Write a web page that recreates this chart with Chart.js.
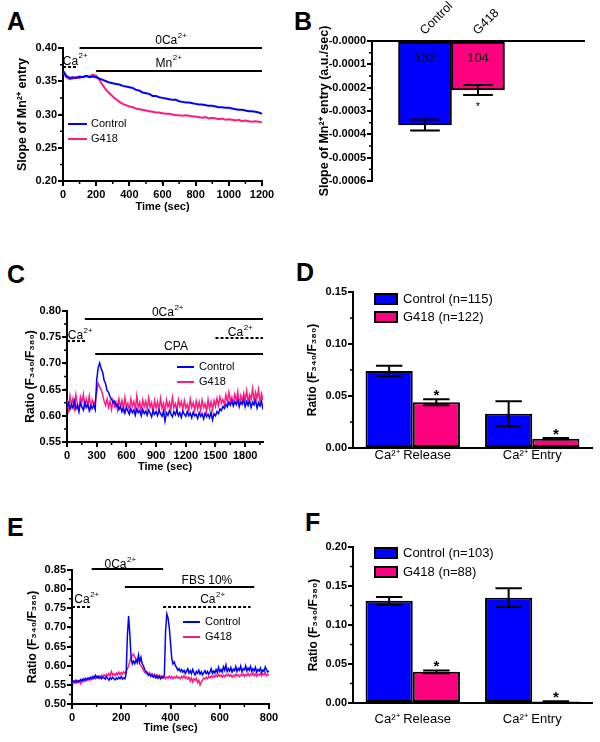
<!DOCTYPE html>
<html>
<head>
<meta charset="utf-8">
<title>Mn2+ entry and Ca2+ signals: Control vs G418</title>
<script src="https://cdn.jsdelivr.net/npm/chart.js@4.4.1/dist/chart.umd.min.js"></script>
<style>
  body { margin: 0; background: #fff; }
  #fig { position: relative; width: 600px; height: 742px; overflow: hidden; }
  #fig canvas { position: absolute; }
  .tag { position: absolute; font: bold 25px "Liberation Sans", Arial, sans-serif; line-height: 1; }
</style>
</head>
<body>
<div id="fig">
  <div class="tag" style="left:7px;top:9px">A</div>
  <div class="tag" style="left:294px;top:9px">B</div>
  <div class="tag" style="left:7px;top:262px">C</div>
  <div class="tag" style="left:296px;top:260px">D</div>
  <div class="tag" style="left:7px;top:515px">E</div>
  <div class="tag" style="left:305px;top:510px">F</div>
  <canvas id="chartA" width="300" height="215" style="left:0;top:0"></canvas>
  <canvas id="chartB" width="300" height="215" style="left:300px;top:0"></canvas>
  <canvas id="chartC" width="300" height="235" style="left:0;top:240px"></canvas>
  <canvas id="chartD" width="300" height="235" style="left:300px;top:240px"></canvas>
  <canvas id="chartE" width="300" height="242" style="left:0;top:500px"></canvas>
  <canvas id="chartF" width="300" height="242" style="left:300px;top:500px"></canvas>
</div>
<script>
// --- DATA ---
// A: slope of Mn2+ quench, one sample every 20 s (0..1200 s)
const stepA = 20;
const slopeControlA = [
  0.366, 0.358, 0.355, 0.356, 0.355, 0.357, 0.356, 0.358, 0.356, 0.357,
  0.356, 0.354, 0.352, 0.350, 0.348, 0.347, 0.346, 0.345, 0.343, 0.342,
  0.341, 0.340, 0.337, 0.336, 0.333, 0.332, 0.331, 0.328, 0.328, 0.326,
  0.325, 0.324, 0.323, 0.322, 0.322, 0.320, 0.319, 0.318, 0.318, 0.317,
  0.316, 0.315, 0.315, 0.314, 0.313, 0.313, 0.312, 0.311, 0.311, 0.310,
  0.310, 0.309, 0.308, 0.307, 0.307, 0.306, 0.305, 0.305, 0.304, 0.303,
  0.301
];
const slopeG418A = [
  0.364, 0.356, 0.353, 0.354, 0.356, 0.355, 0.357, 0.358, 0.357, 0.360,
  0.358, 0.352, 0.344, 0.337, 0.332, 0.327, 0.323, 0.319, 0.316, 0.314,
  0.312, 0.311, 0.309, 0.308, 0.307, 0.306, 0.305, 0.304, 0.303, 0.303,
  0.302, 0.301, 0.301, 0.300, 0.299, 0.299, 0.298, 0.299, 0.298, 0.297,
  0.297, 0.296, 0.295, 0.296, 0.294, 0.295, 0.294, 0.293, 0.294, 0.292,
  0.293, 0.292, 0.291, 0.292, 0.290, 0.291, 0.290, 0.289, 0.290, 0.289,
  0.288
];

// B: mean slope of Mn2+ entry (a.u./sec) with SEM, cell counts
const groupsB = ['Control', 'G418'];
const slopeMeanB = [-0.00036, -0.00021];
const slopeSemB = [0.000024, 0.000021];
const cellsB = ['132', '104'];

// C: F340/F380 ratio, CPA protocol, one sample every 15 s (0..1980 s)
const stepC = 15;
const ratioControlC = [
  0.618, 0.625, 0.612, 0.622, 0.615, 0.628, 0.613, 0.620, 0.608, 0.624,
  0.617, 0.611, 0.626, 0.616, 0.622, 0.610, 0.619, 0.614, 0.621, 0.612,
  0.668, 0.692, 0.701, 0.690, 0.683, 0.668, 0.661, 0.648, 0.645, 0.636,
  0.632, 0.625, 0.628, 0.618, 0.622, 0.612, 0.618, 0.608, 0.615, 0.605,
  0.616, 0.609, 0.603, 0.614, 0.606, 0.611, 0.601, 0.613, 0.606, 0.610,
  0.600, 0.612, 0.604, 0.609, 0.601, 0.611, 0.605, 0.598, 0.610, 0.603,
  0.608, 0.600, 0.611, 0.604, 0.599, 0.609, 0.590, 0.606, 0.601, 0.610,
  0.603, 0.598, 0.608, 0.602, 0.611, 0.600, 0.606, 0.597, 0.609, 0.603,
  0.599, 0.608, 0.600, 0.605, 0.596, 0.607, 0.600, 0.603, 0.595, 0.606,
  0.599, 0.604, 0.594, 0.605, 0.598, 0.603, 0.596, 0.607, 0.592, 0.604,
  0.600, 0.608, 0.604, 0.613, 0.610, 0.618, 0.614, 0.622, 0.617, 0.626,
  0.620, 0.628, 0.619, 0.627, 0.621, 0.630, 0.618, 0.626, 0.622, 0.631,
  0.617, 0.627, 0.620, 0.629, 0.616, 0.626, 0.621, 0.630, 0.615, 0.625,
  0.619, 0.628, 0.612
];
const ratioG418C = [
  0.630, 0.612, 0.638, 0.620, 0.633, 0.615, 0.640, 0.622, 0.610, 0.636,
  0.625, 0.641, 0.618, 0.632, 0.620, 0.638, 0.615, 0.630, 0.622, 0.628,
  0.645, 0.662, 0.655, 0.650, 0.640, 0.628, 0.620, 0.632, 0.616, 0.628,
  0.612, 0.630, 0.618, 0.626, 0.611, 0.632, 0.617, 0.629, 0.612, 0.635,
  0.616, 0.624, 0.610, 0.632, 0.618, 0.627, 0.612, 0.638, 0.615, 0.626,
  0.609, 0.630, 0.617, 0.628, 0.613, 0.634, 0.616, 0.625, 0.608, 0.629,
  0.615, 0.627, 0.611, 0.633, 0.614, 0.624, 0.609, 0.630, 0.617, 0.626,
  0.612, 0.635, 0.615, 0.623, 0.610, 0.631, 0.618, 0.627, 0.612, 0.629,
  0.615, 0.622, 0.609, 0.632, 0.616, 0.625, 0.611, 0.628, 0.613, 0.626,
  0.610, 0.630, 0.616, 0.623, 0.608, 0.631, 0.614, 0.627, 0.612, 0.629,
  0.618, 0.633, 0.620, 0.636, 0.624, 0.631, 0.622, 0.640, 0.626, 0.645,
  0.628, 0.636, 0.622, 0.641, 0.629, 0.646, 0.620, 0.638, 0.627, 0.643,
  0.630, 0.648, 0.625, 0.640, 0.632, 0.652, 0.628, 0.645, 0.633, 0.650,
  0.626, 0.642, 0.630
];

// D: CPA release / entry amplitudes (mean, SEM)
const phaseLabels = ['Ca\u00B2\u207A Release', 'Ca\u00B2\u207A Entry'];
const ampControlD = [0.074, 0.033];
const semControlD = [0.005, 0.012];
const ampG418D = [0.044, 0.009];
const semG418D = [0.0028, 0.0006];
const legendD = ['Control (n=115)', 'G418 (n=122)'];

// E: F340/F380 ratio, FBS protocol, one sample every 5 s (0..800 s)
const stepE = 5;
const ratioControlE = [
  0.555, 0.560, 0.558, 0.562, 0.556, 0.561, 0.559, 0.564, 0.560, 0.566,
  0.562, 0.567, 0.563, 0.568, 0.565, 0.570, 0.566, 0.572, 0.568, 0.575,
  0.569, 0.573, 0.567, 0.571, 0.566, 0.570, 0.568, 0.565, 0.571, 0.567,
  0.562, 0.569, 0.565, 0.570, 0.566, 0.563, 0.568, 0.565, 0.570, 0.566,
  0.572, 0.565, 0.568, 0.566, 0.580, 0.680, 0.730, 0.680, 0.620, 0.605,
  0.612, 0.605, 0.615, 0.608, 0.628, 0.610, 0.622, 0.605, 0.600, 0.590,
  0.585, 0.580, 0.575, 0.578, 0.572, 0.576, 0.570, 0.574, 0.568, 0.573,
  0.567, 0.572, 0.566, 0.571, 0.568, 0.575, 0.690, 0.735, 0.725, 0.700,
  0.660, 0.620, 0.605, 0.610, 0.600, 0.595, 0.588, 0.592, 0.585, 0.590,
  0.583, 0.588, 0.580, 0.586, 0.592, 0.581, 0.587, 0.579, 0.590, 0.582,
  0.576, 0.585, 0.580, 0.588, 0.578, 0.584, 0.576, 0.582, 0.587, 0.579,
  0.585, 0.578, 0.583, 0.592, 0.580, 0.586, 0.581, 0.590, 0.582, 0.596,
  0.584, 0.590, 0.583, 0.597, 0.588, 0.602, 0.585, 0.592, 0.586, 0.595,
  0.583, 0.591, 0.587, 0.598, 0.585, 0.593, 0.588, 0.599, 0.584, 0.592,
  0.589, 0.600, 0.586, 0.594, 0.588, 0.598, 0.585, 0.592, 0.587, 0.596,
  0.583, 0.590, 0.586, 0.594, 0.582, 0.589, 0.585, 0.597, 0.590, 0.584,
  0.586
];
const ratioG418E = [
  0.557, 0.553, 0.559, 0.555, 0.561, 0.556, 0.560, 0.553, 0.562, 0.558,
  0.564, 0.560, 0.566, 0.562, 0.567, 0.563, 0.568, 0.565, 0.570, 0.566,
  0.571, 0.568, 0.573, 0.569, 0.575, 0.570, 0.576, 0.572, 0.578, 0.573,
  0.580, 0.574, 0.585, 0.576, 0.579, 0.574, 0.581, 0.576, 0.583, 0.577,
  0.582, 0.578, 0.584, 0.580, 0.585, 0.592, 0.600, 0.612, 0.620, 0.628,
  0.630, 0.622, 0.618, 0.612, 0.615, 0.605, 0.600, 0.595, 0.588, 0.583,
  0.580, 0.584, 0.578, 0.582, 0.575, 0.579, 0.573, 0.578, 0.572, 0.576,
  0.571, 0.575, 0.570, 0.574, 0.568, 0.572, 0.566, 0.571, 0.567, 0.573,
  0.568, 0.572, 0.566, 0.571, 0.568, 0.573, 0.567, 0.570, 0.566, 0.572,
  0.568, 0.574, 0.567, 0.571, 0.565, 0.570, 0.560, 0.568, 0.558, 0.566,
  0.562, 0.567, 0.556, 0.562, 0.550, 0.558, 0.563, 0.568, 0.565, 0.570,
  0.566, 0.572, 0.568, 0.573, 0.569, 0.574, 0.570, 0.576, 0.571, 0.577,
  0.572, 0.576, 0.570, 0.575, 0.571, 0.577, 0.573, 0.578, 0.572, 0.576,
  0.570, 0.575, 0.572, 0.578, 0.573, 0.577, 0.571, 0.576, 0.574, 0.579,
  0.572, 0.577, 0.574, 0.580, 0.573, 0.578, 0.575, 0.581, 0.574, 0.579,
  0.572, 0.578, 0.575, 0.580, 0.573, 0.579, 0.576, 0.582, 0.574, 0.578,
  0.576
];

// F: FBS release / entry amplitudes (mean, SEM)
const ampControlF = [0.131, 0.135];
const semControlF = [0.005, 0.012];
const ampG418F = [0.040, 0.002];
const semG418F = [0.0018, 0.0003];
const legendF = ['Control (n=103)', 'G418 (n=88)'];

// --- STYLE ---
const FONT = '"Liberation Sans", Arial, Helvetica, sans-serif';
const BLUE = '#0000FF';
const PINK_LINE = '#FF1A80';
const PINK_BAR = '#FF0080';
Chart.defaults.font.family = FONT;
Chart.defaults.color = '#000';

// text with a small raised part, e.g. Ca + 2+
function richText(ctx, base, sup, cx, cy, size) {
  ctx.font = size + 'px ' + FONT;
  const w1 = ctx.measureText(base).width;
  const supSize = Math.round(size * 0.68);
  ctx.font = supSize + 'px ' + FONT;
  const w2 = sup ? ctx.measureText(sup).width : 0;
  const x0 = cx - (w1 + w2) / 2;
  ctx.textAlign = 'left';
  ctx.textBaseline = 'middle';
  ctx.font = size + 'px ' + FONT;
  ctx.fillText(base, x0, cy);
  if (sup) {
    ctx.font = supSize + 'px ' + FONT;
    ctx.fillText(sup, x0 + w1 + 0.5, cy - size * 0.42);
  }
}

// minor ticks, protocol bars, legends, error bars, stars
function decor(cfg) {
  return {
    id: 'decor',
    afterDatasetsDraw(chart) {
      if (!cfg.errors) return;
      const ctx = chart.ctx, ys = chart.scales.y;
      ctx.save();
      ctx.strokeStyle = '#000';
      ctx.fillStyle = '#000';
      ctx.lineWidth = 2;
      chart.data.datasets.forEach((ds, d) => {
        chart.getDatasetMeta(d).data.forEach((bar, i) => {
          const m = ds.data[i], e = cfg.errors[d][i];
          if (m == null || e == null) return;
          const x = bar.x, half = bar.width * 0.28;
          const yHi = ys.getPixelForValue(m + e), yLo = ys.getPixelForValue(m - e);
          ctx.beginPath();
          ctx.moveTo(x, yHi); ctx.lineTo(x, yLo);
          ctx.moveTo(x - half, yHi); ctx.lineTo(x + half, yHi);
          ctx.moveTo(x - half, yLo); ctx.lineTo(x + half, yLo);
          ctx.stroke();
          if (cfg.stars && cfg.stars[d][i]) {
            ctx.textAlign = 'center';
            ctx.textBaseline = 'alphabetic';
            ctx.font = cfg.starFont;
            if (m < 0) ctx.fillText('*', x, Math.max(yHi, yLo) + 15);
            else ctx.fillText('*', x, Math.min(yHi, yLo) + 1);
          }
          if (cfg.inner && cfg.inner[d][i]) {
            ctx.textAlign = 'center';
            ctx.textBaseline = 'middle';
            ctx.font = '13px ' + FONT;
            ctx.fillText(cfg.inner[d][i], x, ys.getPixelForValue(0) + 17);
          }
        });
      });
      ctx.restore();
    },
    afterDraw(chart) {
      const ctx = chart.ctx;
      ctx.save();
      ctx.strokeStyle = '#000';
      ctx.fillStyle = '#000';
      ctx.lineWidth = 1.5;
      // minor ticks
      Object.keys(cfg.minor || {}).forEach(id => {
        const s = chart.scales[id], step = cfg.minor[id];
        const n = Math.round((s.max - s.min) / step);
        ctx.beginPath();
        for (let k = 0; k <= n; k++) {
          const p = s.getPixelForValue(s.min + k * step);
          if (s.isHorizontal()) { ctx.moveTo(p, s.top); ctx.lineTo(p, s.top + 3); }
          else { ctx.moveTo(s.right - 3, p); ctx.lineTo(s.right, p); }
        }
        ctx.stroke();
      });
      // protocol bars
      (cfg.marks || []).forEach(mk => {
        const xs = chart.scales.x, ys = chart.scales.y;
        const y = Math.round(ys.getPixelForValue(mk.at));
        ctx.lineWidth = 2;
        ctx.setLineDash(mk.dashed ? [3, 2] : []);
        ctx.beginPath();
        ctx.moveTo(xs.getPixelForValue(mk.from), y);
        ctx.lineTo(xs.getPixelForValue(mk.to), y);
        ctx.stroke();
        ctx.setLineDash([]);
        richText(ctx, mk.text, mk.sup, xs.getPixelForValue(mk.tx), ys.getPixelForValue(mk.ty), 12);
      });
      // legend
      if (cfg.legend) {
        const L = cfg.legend;
        chart.data.datasets.forEach((ds, i) => {
          const y = L.y + i * L.gap;
          if (L.kind === 'line') {
            ctx.strokeStyle = ds.borderColor;
            ctx.lineWidth = 2;
            ctx.beginPath();
            ctx.moveTo(L.x, y); ctx.lineTo(L.x + L.len, y);
            ctx.stroke();
          } else {
            ctx.fillStyle = ds.backgroundColor;
            ctx.fillRect(L.x, y - 5, L.len, 10);
            ctx.strokeStyle = '#000';
            ctx.lineWidth = 2;
            ctx.strokeRect(L.x, y - 5, L.len, 10);
          }
          ctx.fillStyle = '#000';
          ctx.font = L.font + 'px ' + FONT;
          ctx.textAlign = 'left';
          ctx.textBaseline = 'middle';
          ctx.fillText(ds.label, L.x + L.len + L.pad, y);
        });
      }
      ctx.restore();
    }
  };
}

function valueAxis(o) {
  return {
    type: 'linear',
    min: o.min, max: o.max,
    afterFit: s => { s.width = o.width; s.paddingTop = 0; s.paddingBottom = 0; },
    border: { color: '#000', width: 2 },
    grid: { drawOnChartArea: false, color: '#000', lineWidth: 2, tickLength: 5 },
    ticks: { stepSize: o.step, includeBounds: false, padding: 1, color: '#000',
             font: { size: 11, weight: 'bold' }, callback: o.fmt },
    title: { display: true, text: o.title, color: '#000', font: { size: o.tsize || 12, weight: 'bold' },
             padding: { top: o.tpad, bottom: 0 } }
  };
}

function timeAxis(o) {
  return {
    type: 'linear',
    min: 0, max: o.max,
    afterFit: s => { s.height = o.height; s.paddingLeft = 0; s.paddingRight = 0; },
    border: { color: '#000', width: 2 },
    grid: { drawOnChartArea: false, color: '#000', lineWidth: 2, tickLength: 5 },
    ticks: { stepSize: o.step, includeBounds: false, padding: 2, maxRotation: 0, autoSkip: false,
             color: '#000', font: { size: 11, weight: 'bold' }, callback: v => String(v) },
    title: { display: true, text: 'Time (sec)', color: '#000', font: { size: 11, weight: 'bold' },
             padding: { top: 0, bottom: o.tpad } }
  };
}

function traceChart(id, p) {
  const pts = (arr, dt) => arr.map((v, i) => ({ x: i * dt, y: v }));
  const line = { pointRadius: 0, borderWidth: p.lw, tension: 0, fill: false };
  return new Chart(document.getElementById(id), {
    type: 'line',
    data: {
      datasets: [
        Object.assign({ label: 'Control', data: pts(p.control, p.dt), borderColor: BLUE }, line),
        Object.assign({ label: 'G418', data: pts(p.g418, p.dt), borderColor: PINK_LINE }, line)
      ]
    },
    options: {
      responsive: false,
      animation: false,
      layout: { padding: p.pad },
      plugins: { legend: { display: false }, tooltip: { enabled: false } },
      scales: { x: timeAxis(p.x), y: valueAxis(p.y) }
    },
    plugins: [decor(p.decor)]
  });
}

function ampChart(id, p) {
  const bar = { borderColor: '#000', borderWidth: 2, borderSkipped: false,
                categoryPercentage: 0.79, barPercentage: 1 };
  return new Chart(document.getElementById(id), {
    type: 'bar',
    data: {
      labels: phaseLabels,
      datasets: [
        Object.assign({ label: p.names[0], data: p.control, backgroundColor: BLUE }, bar),
        Object.assign({ label: p.names[1], data: p.g418, backgroundColor: PINK_BAR }, bar)
      ]
    },
    options: {
      responsive: false,
      animation: false,
      layout: { padding: p.pad },
      plugins: { legend: { display: false }, tooltip: { enabled: false } },
      scales: {
        x: {
          afterFit: s => { s.height = p.xHeight; s.paddingLeft = 0; s.paddingRight = 0; },
          border: { color: '#000', width: 2 },
          grid: { display: false, drawTicks: false },
          ticks: { padding: p.tickPad, color: '#000', font: { size: 13 } }
        },
        y: valueAxis(p.y)
      }
    },
    plugins: [decor({
      minor: { y: 0.025 },
      errors: [p.semC, p.semG],
      stars: [[false, false], [true, true]],
      starFont: 'bold 15px ' + FONT,
      legend: { kind: 'box', x: 75, y: p.legendY, gap: p.legendGap, len: 22, pad: 6, font: 13 }
    })]
  });
}

// --- A ---
traceChart('chartA', {
  dt: stepA, control: slopeControlA, g418: slopeG418A, lw: 2,
  pad: { left: 0, top: 48, right: 38, bottom: 0 },
  x: { max: 1200, step: 200, height: 34, tpad: 1.4 },
  y: { min: 0.20, max: 0.40, step: 0.05, width: 63, tpad: 15.5, tsize: 12.5,
       title: 'Slope of Mn\u00B2\u207A entry', fmt: v => v.toFixed(2) },
  decor: {
    minor: { x: 100, y: 0.025 },
    marks: [
      { from: 100, to: 1200, at: 0.400, text: '0Ca', sup: '2+', tx: 650, ty: 0.411 },
      { from: 200, to: 1200, at: 0.366, text: 'Mn', sup: '2+', tx: 636, ty: 0.377 },
      { from: 0, to: 90, at: 0.372, dashed: true, text: 'Ca', sup: '2+', tx: 72, ty: 0.380 }
    ],
    legend: { kind: 'line', x: 68, y: 124, gap: 15, len: 19, pad: 4, font: 11 }
  }
});

// --- B ---
const catsB = ['', ...groupsB, '', ''];
const valsB = [null, ...slopeMeanB, null, null];
const semB = [null, ...slopeSemB, null, null];
new Chart(document.getElementById('chartB'), {
  type: 'bar',
  data: {
    labels: catsB,
    datasets: [{
      label: 'Slope',
      data: valsB,
      backgroundColor: c => catsB[c.dataIndex] === 'G418' ? PINK_BAR : BLUE,
      borderColor: '#000', borderWidth: 2, borderSkipped: false,
      categoryPercentage: 1, barPercentage: 1
    }]
  },
  options: {
    responsive: false,
    animation: false,
    layout: { padding: { left: 0, top: 0, right: 16, bottom: 34 } },
    plugins: { legend: { display: false }, tooltip: { enabled: false } },
    scales: {
      x: {
        position: 'top',
        offset: false,
        afterFit: s => { s.height = 41; s.paddingLeft = 0; s.paddingRight = 0; },
        border: { color: '#000', width: 2 },
        grid: { display: false, drawTicks: false, offset: false },
        ticks: { minRotation: 45, maxRotation: 45, autoSkip: false, padding: 3, labelOffset: 8,
                 color: '#000', font: { size: 12.5 } }
      },
      y: valueAxis({ min: -0.0006, max: 0, step: 0.0001, width: 72, tpad: 17.5, tsize: 12.5,
                     title: 'Slope of Mn\u00B2\u207A entry (a.u./sec)',
                     fmt: v => Math.abs(v) < 1e-9 ? '-0.0000' : v.toFixed(4) })
    }
  },
  plugins: [decor({
    minor: { y: 0.00005 },
    errors: [semB],
    stars: [catsB.map(c => c === 'G418')],
    starFont: '11px ' + FONT,
    inner: [[null, ...cellsB, null, null]]
  })]
});

// --- C ---
traceChart('chartC', {
  dt: stepC, control: ratioControlC, g418: ratioG418C, lw: 1.5,
  pad: { left: 0, top: 71, right: 37, bottom: 0 },
  x: { max: 1980, step: 300, height: 33, tpad: 1.4 },
  y: { min: 0.55, max: 0.80, step: 0.05, width: 67, tpad: 23.8,
       title: 'Ratio (F\u2083\u2084\u2080/F\u2083\u2088\u2080)', fmt: v => v.toFixed(2) },
  decor: {
    minor: { x: 150, y: 0.025 },
    marks: [
      { from: 180, to: 1980, at: 0.785, text: '0Ca', sup: '2+', tx: 1015, ty: 0.797 },
      { from: 0, to: 200, at: 0.7425, dashed: true, text: 'Ca', sup: '2+', tx: 131, ty: 0.753 },
      { from: 285, to: 1980, at: 0.718, text: 'CPA', tx: 1101, ty: 0.731 },
      { from: 1500, to: 1980, at: 0.749, dashed: true, text: 'Ca', sup: '2+', tx: 1748, ty: 0.758 }
    ],
    legend: { kind: 'line', x: 177, y: 127, gap: 15, len: 17, pad: 5, font: 11 }
  }
});

// --- D ---
ampChart('chartD', {
  control: ampControlD, g418: ampG418D, semC: semControlD, semG: semG418D, names: legendD,
  pad: { left: 0, top: 52, right: 8, bottom: 0 },
  xHeight: 27, tickPad: 0,
  y: { min: 0, max: 0.15, step: 0.05, width: 53, tpad: 5.8,
       title: 'Ratio (F\u2083\u2084\u2080/F\u2083\u2088\u2080)', fmt: v => v.toFixed(2) },
  legendY: 59, legendGap: 18
});

// --- E ---
traceChart('chartE', {
  dt: stepE, control: ratioControlE, g418: ratioG418E, lw: 1.5,
  pad: { left: 0, top: 70, right: 31, bottom: 0 },
  x: { max: 800, step: 200, height: 38, tpad: 7.4 },
  y: { min: 0.50, max: 0.85, step: 0.05, width: 72, tpad: 25.8,
       title: 'Ratio (F\u2083\u2084\u2080/F\u2083\u2088\u2080)', fmt: v => v.toFixed(2) },
  decor: {
    minor: { x: 100, y: 0.025 },
    marks: [
      { from: 80, to: 370, at: 0.8526, text: '0Ca', sup: '2+', tx: 195, ty: 0.864 },
      { from: 215, to: 740, at: 0.8056, text: 'FBS 10%', tx: 548, ty: 0.821 },
      { from: 0, to: 80, at: 0.7534, dashed: true, text: 'Ca', sup: '2+', tx: 59, ty: 0.772 },
      { from: 370, to: 725, at: 0.7534, dashed: true, text: 'Ca', sup: '2+', tx: 570, ty: 0.772 }
    ],
    legend: { kind: 'line', x: 183, y: 122, gap: 15, len: 17, pad: 5, font: 11 }
  }
});

// --- F ---
ampChart('chartF', {
  control: ampControlF, g418: ampG418F, semC: semControlF, semG: semG418F, names: legendF,
  pad: { left: 0, top: 47, right: 8, bottom: 0 },
  xHeight: 39, tickPad: 9,
  y: { min: 0, max: 0.20, step: 0.05, width: 53, tpad: 6.8,
       title: 'Ratio (F\u2083\u2084\u2080/F\u2083\u2088\u2080)', fmt: v => v.toFixed(2) },
  legendY: 53, legendGap: 19
});
</script>
</body>
</html>
